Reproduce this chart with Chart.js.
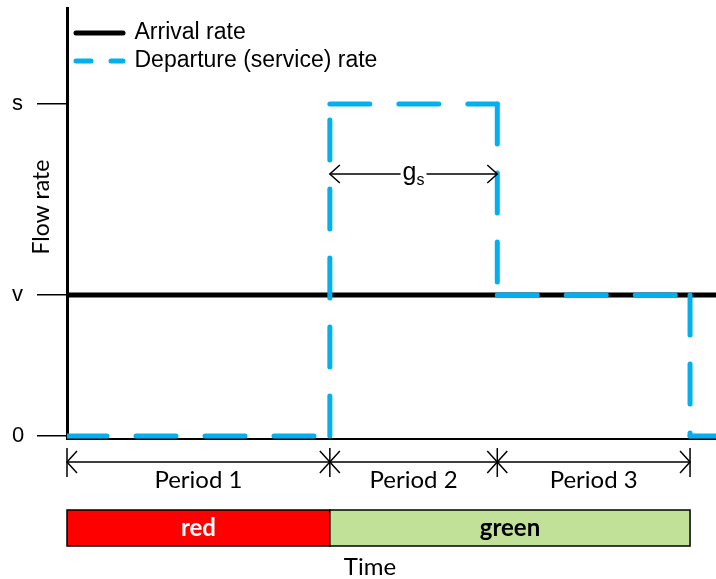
<!DOCTYPE html>
<html>
<head>
<meta charset="utf-8">
<title>Flow rate over time</title>
<script src="https://cdn.jsdelivr.net/npm/chart.js@4.4.1/dist/chart.umd.min.js"></script>
<style>
    body { margin: 0; background: #fff; }
    #chartBox { width: 716px; height: 579px; }
</style>
</head>
<body>
<div id="chartBox"><canvas id="myChart"></canvas></div>
<script>
// x is time (0..100), y is flow rate (0 = none, v = arrival, s = saturation)
const arrivalX = [0, 100];
const arrivalY = [42.5, 42.5];

const departureX = [0, 40.5, 40.5, 66.3, 66.3, 96, 96, 100];
const departureY = [0, 0, 100, 100, 42.5, 42.5, 0, 0];

const yTickValues = [0, 42.5, 100];
const yTickLabels = ['0', 'v', 's'];

const periodBounds = [0, 40.5, 66.3, 96];
const periodLabels = ['Period 1', 'Period 2', 'Period 3'];

const phaseBounds = [0, 40.5, 96];
const phaseLabels = ['red', 'green'];

const gsRange = [40.5, 66.3];

const BLUE = '#00B0F0';
const CAL = 'Lato, "Open Sans", sans-serif';
const ARIAL = '"Liberation Sans", Arial, sans-serif';

function toPoints(xs, ys) {
    return xs.map((x, i) => ({x: x, y: ys[i]}));
}

// small open arrow head, tip at (x, y), dir = -1 points left, +1 points right
function arrowHead(ctx, x, y, dir, len, half) {
    ctx.beginPath();
    ctx.moveTo(x - dir * len, y - half);
    ctx.lineTo(x, y);
    ctx.lineTo(x - dir * len, y + half);
    ctx.stroke();
}

const extras = {
    id: 'extras',
    afterLayout(chart) {
        // legend sits inside the plot, top left
        const lg = chart.legend;
        lg.left = chart.chartArea.left + 4;
        lg.top = 16.5;
    },
    afterDraw(chart) {
        const {ctx, scales} = chart;
        const xs = scales.x;
        ctx.save();
        ctx.fillStyle = '#000';
        ctx.strokeStyle = '#000';

        // y axis title
        ctx.save();
        ctx.translate(42, 207);
        ctx.rotate(-Math.PI / 2);
        ctx.font = '23px ' + CAL;
        ctx.textAlign = 'center';
        ctx.textBaseline = 'middle';
        ctx.fillText('Flow rate', 0, 0);
        ctx.restore();

        // g_s arrow
        const gy = 174;
        const g0 = xs.getPixelForValue(gsRange[0]);
        const g1 = xs.getPixelForValue(gsRange[1]);
        ctx.font = '25px ' + ARIAL;
        const wg = ctx.measureText('g').width;
        ctx.font = '16px ' + ARIAL;
        const ws = ctx.measureText('s').width;
        const tx = (g0 + g1) / 2 - (wg + ws) / 2;
        ctx.lineWidth = 1.5;
        ctx.beginPath();
        ctx.moveTo(g0, gy); ctx.lineTo(tx - 2, gy);
        ctx.moveTo(tx + wg + ws + 2, gy); ctx.lineTo(g1, gy);
        ctx.stroke();
        arrowHead(ctx, g0, gy, -1, 10, 9);
        arrowHead(ctx, g1, gy, 1, 10, 9);
        ctx.textAlign = 'left';
        ctx.textBaseline = 'alphabetic';
        ctx.font = '25px ' + ARIAL;
        ctx.fillText('g', tx, gy + 6);
        ctx.font = '16px ' + ARIAL;
        ctx.fillText('s', tx + wg, gy + 11);

        // period dimension line
        const py = 462;
        const pxs = periodBounds.map(v => xs.getPixelForValue(v));
        ctx.lineWidth = 1.5;
        ctx.beginPath();
        ctx.moveTo(pxs[0], py); ctx.lineTo(pxs[pxs.length - 1], py);
        pxs.forEach(p => { ctx.moveTo(p, 448); ctx.lineTo(p, 477); });
        ctx.stroke();
        ctx.font = '24px ' + CAL;
        ctx.textAlign = 'center';
        ctx.textBaseline = 'middle';
        for (let i = 0; i < periodLabels.length; i++) {
            arrowHead(ctx, pxs[i], py, -1, 10, 11);
            arrowHead(ctx, pxs[i + 1], py, 1, 10, 11);
            ctx.fillText(periodLabels[i], (pxs[i] + pxs[i + 1]) / 2, 480);
        }

        // signal phase bar
        const phaseFill = ['#FF0000', '#C1E198'];
        const phaseText = ['#FFFFFF', '#000000'];
        const bTop = 510, bH = 36;
        ctx.font = 'bold 24px ' + CAL;
        ctx.lineWidth = 1.5;
        for (let i = 0; i < phaseLabels.length; i++) {
            const a = xs.getPixelForValue(phaseBounds[i]);
            const b = xs.getPixelForValue(phaseBounds[i + 1]);
            ctx.fillStyle = phaseFill[i];
            ctx.fillRect(a, bTop, b - a, bH);
            ctx.strokeRect(a, bTop, b - a, bH);
            ctx.fillStyle = phaseText[i];
            ctx.fillText(phaseLabels[i], (a + b) / 2, bTop + bH / 2);
        }

        // x axis title
        ctx.fillStyle = '#000';
        ctx.font = '24px ' + CAL;
        ctx.fillText('Time', 370, 567);
        ctx.restore();
    }
};

function createChart() {
    const ctx = document.getElementById('myChart');
    new Chart(ctx, {
        type: 'line',
        data: {
            datasets: [
                {
                    label: 'Arrival rate',
                    data: toPoints(arrivalX, arrivalY),
                    borderColor: '#000',
                    borderWidth: 5,
                    pointRadius: 0,
                    order: 1
                },
                {
                    label: 'Departure (service) rate',
                    data: toPoints(departureX, departureY),
                    borderColor: BLUE,
                    borderWidth: 5,
                    borderDash: [40, 29],
                    borderCapStyle: 'round',
                    pointRadius: 0,
                    order: 0,
                    // restart the dash pattern on every straight piece
                    segment: {
                        borderDashOffset: c => c.p0DataIndex * 0.001
                    }
                }
            ]
        },
        options: {
            responsive: true,
            maintainAspectRatio: false,
            animation: false,
            events: [],
            layout: {
                padding: {top: 8, right: 0, bottom: 140, left: 12}
            },
            scales: {
                x: {
                    type: 'linear',
                    min: 0,
                    max: 100,
                    grid: {display: false},
                    ticks: {display: false},
                    border: {color: '#000', width: 2},
                    afterFit: s => { s.height = 0; }
                },
                y: {
                    min: -0.9,
                    max: 128.9,
                    afterBuildTicks: s => {
                        s.ticks = yTickValues.map(v => ({value: v}));
                    },
                    afterFit: s => { s.width = 55; },
                    ticks: {
                        autoSkip: false,
                        padding: 0,
                        crossAlign: 'far',
                        color: '#000',
                        font: {family: ARIAL, size: 22, lineHeight: 0.6},
                        callback: (val, index) => yTickLabels[index]
                    },
                    grid: {
                        drawOnChartArea: false,
                        tickLength: 30,
                        color: '#000',
                        lineWidth: 1.5
                    },
                    border: {color: '#000', width: 3}
                }
            },
            plugins: {
                tooltip: {enabled: false},
                legend: {
                    position: 'chartArea',
                    align: 'start',
                    labels: {
                        usePointStyle: true,
                        pointStyle: 'line',
                        pointStyleWidth: 47,
                        padding: 5,
                        color: '#000',
                        font: {family: ARIAL, size: 23},
                        sort: (a, b) => a.datasetIndex - b.datasetIndex,
                        generateLabels: chart => {
                            const items = Chart.defaults.plugins.legend.labels.generateLabels(chart);
                            items.forEach(it => {
                                const ds = chart.data.datasets[it.datasetIndex];
                                it.strokeStyle = ds.borderColor;
                                it.lineWidth = 5;
                                it.lineCap = 'round';
                                it.lineDash = ds.borderDash ? [15, 20] : [];
                            });
                            return items;
                        }
                    }
                }
            }
        },
        plugins: [extras]
    });
}

createChart();
</script>
</body>
</html>
